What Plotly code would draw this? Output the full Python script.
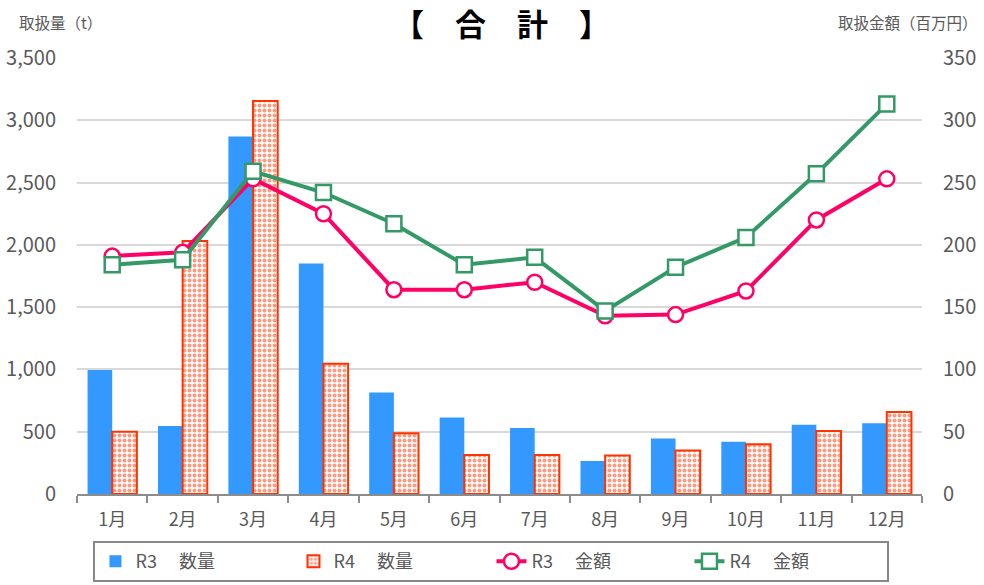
import plotly.graph_objects as go

months = ["1月", "2月", "3月", "4月", "5月", "6月", "7月", "8月", "9月", "10月", "11月", "12月"]
qty_r3 = [995, 545, 2870, 1850, 815, 615, 530, 265, 445, 420, 555, 567]
qty_r4 = [500, 2030, 3155, 1045, 487, 313, 313, 310, 350, 399, 505, 658]
amt_r3 = [191, 194, 253, 225, 164, 164, 170, 143, 144, 163, 220, 253]
amt_r4 = [184, 188, 259, 242, 217, 184, 190, 147, 182, 206, 257, 313]

FONT = "Noto Sans CJK JP"
GRAY = "#595959"

fig = go.Figure()
fig.add_trace(go.Bar(
    x=months, y=qty_r3, name="R3　 数量",
    marker=dict(color="#3399FF", line=dict(width=0)),
))
fig.add_trace(go.Bar(
    x=months, y=qty_r4, name="R4　 数量",
    marker=dict(color="white", line=dict(color="#FF3300", width=2),
                pattern=dict(shape=".", fgcolor="#FF3300", bgcolor="white", size=5, solidity=0.5)),
))
fig.add_trace(go.Scatter(
    x=months, y=amt_r3, name="R3　 金額", yaxis="y2", mode="lines+markers",
    line=dict(color="#FF0066", width=4),
    marker=dict(symbol="circle", size=15, color="white", line=dict(color="#FF0066", width=2.5)),
))
fig.add_trace(go.Scatter(
    x=months, y=amt_r4, name="R4　 金額", yaxis="y2", mode="lines+markers",
    line=dict(color="#339966", width=4),
    marker=dict(symbol="square", size=15, color="white", line=dict(color="#339966", width=2.5)),
))

fig.update_layout(
    width=984, height=585,
    margin=dict(l=77, r=62, t=58, b=91, autoexpand=False),
    paper_bgcolor="white", plot_bgcolor="white",
    font=dict(family=FONT, color=GRAY, size=16),
    barmode="group", bargap=0.3, bargroupgap=0,
    showlegend=True,
    legend=dict(orientation="h", x=0.4905, xanchor="center", y=-0.108, yanchor="top",
                bordercolor="#888888", borderwidth=2, entrywidth=153,
                font=dict(size=18, color=GRAY, family=FONT), traceorder="normal"),
    xaxis=dict(type="category", range=[-0.5, 11.5], showgrid=False, showline=True,
               linecolor="#8C8C8C", linewidth=2,
               ticks="outside", tickson="boundaries", ticklen=7, tickcolor="#8C8C8C", tickwidth=2,
               ticklabelstandoff=8,
               automargin=False, tickfont=dict(size=18, color=GRAY, family=FONT)),
    yaxis=dict(range=[0, 3500], dtick=500, tickformat=",", showgrid=True, gridcolor="#D9D9D9", gridwidth=2,
               zeroline=False, showline=False, ticks="", automargin=False, ticklabelstandoff=20,
               tickfont=dict(size=20, color=GRAY, family=FONT)),
    yaxis2=dict(range=[0, 350], dtick=50, overlaying="y", side="right", showgrid=False,
                zeroline=False, showline=False, automargin=False, ticklabelstandoff=20,
                tickfont=dict(size=20, color=GRAY, family=FONT)),
    hovermode=False,
)

fig.add_annotation(text="【　合　計　】", xref="paper", yref="paper", x=0.502, y=1, xanchor="center",
                   yshift=36, yanchor="middle", showarrow=False,
                   font=dict(size=31, color="black", family=FONT, weight="bold"))
fig.add_annotation(text="取扱量（t）", xref="paper", yref="paper", x=-0.071, y=1, xanchor="left",
                   yanchor="middle", yshift=36, showarrow=False, font=dict(size=15.5, color=GRAY, family=FONT))
fig.add_annotation(text="取扱金額（百万円）", xref="paper", yref="paper", x=1.0686, y=1, xanchor="right",
                   yanchor="middle", yshift=36, showarrow=False, font=dict(size=15.5, color=GRAY, family=FONT))

fig.write_html("out.html", config={"displayModeBar": False},
               post_script="document.body.style.margin='0';")
